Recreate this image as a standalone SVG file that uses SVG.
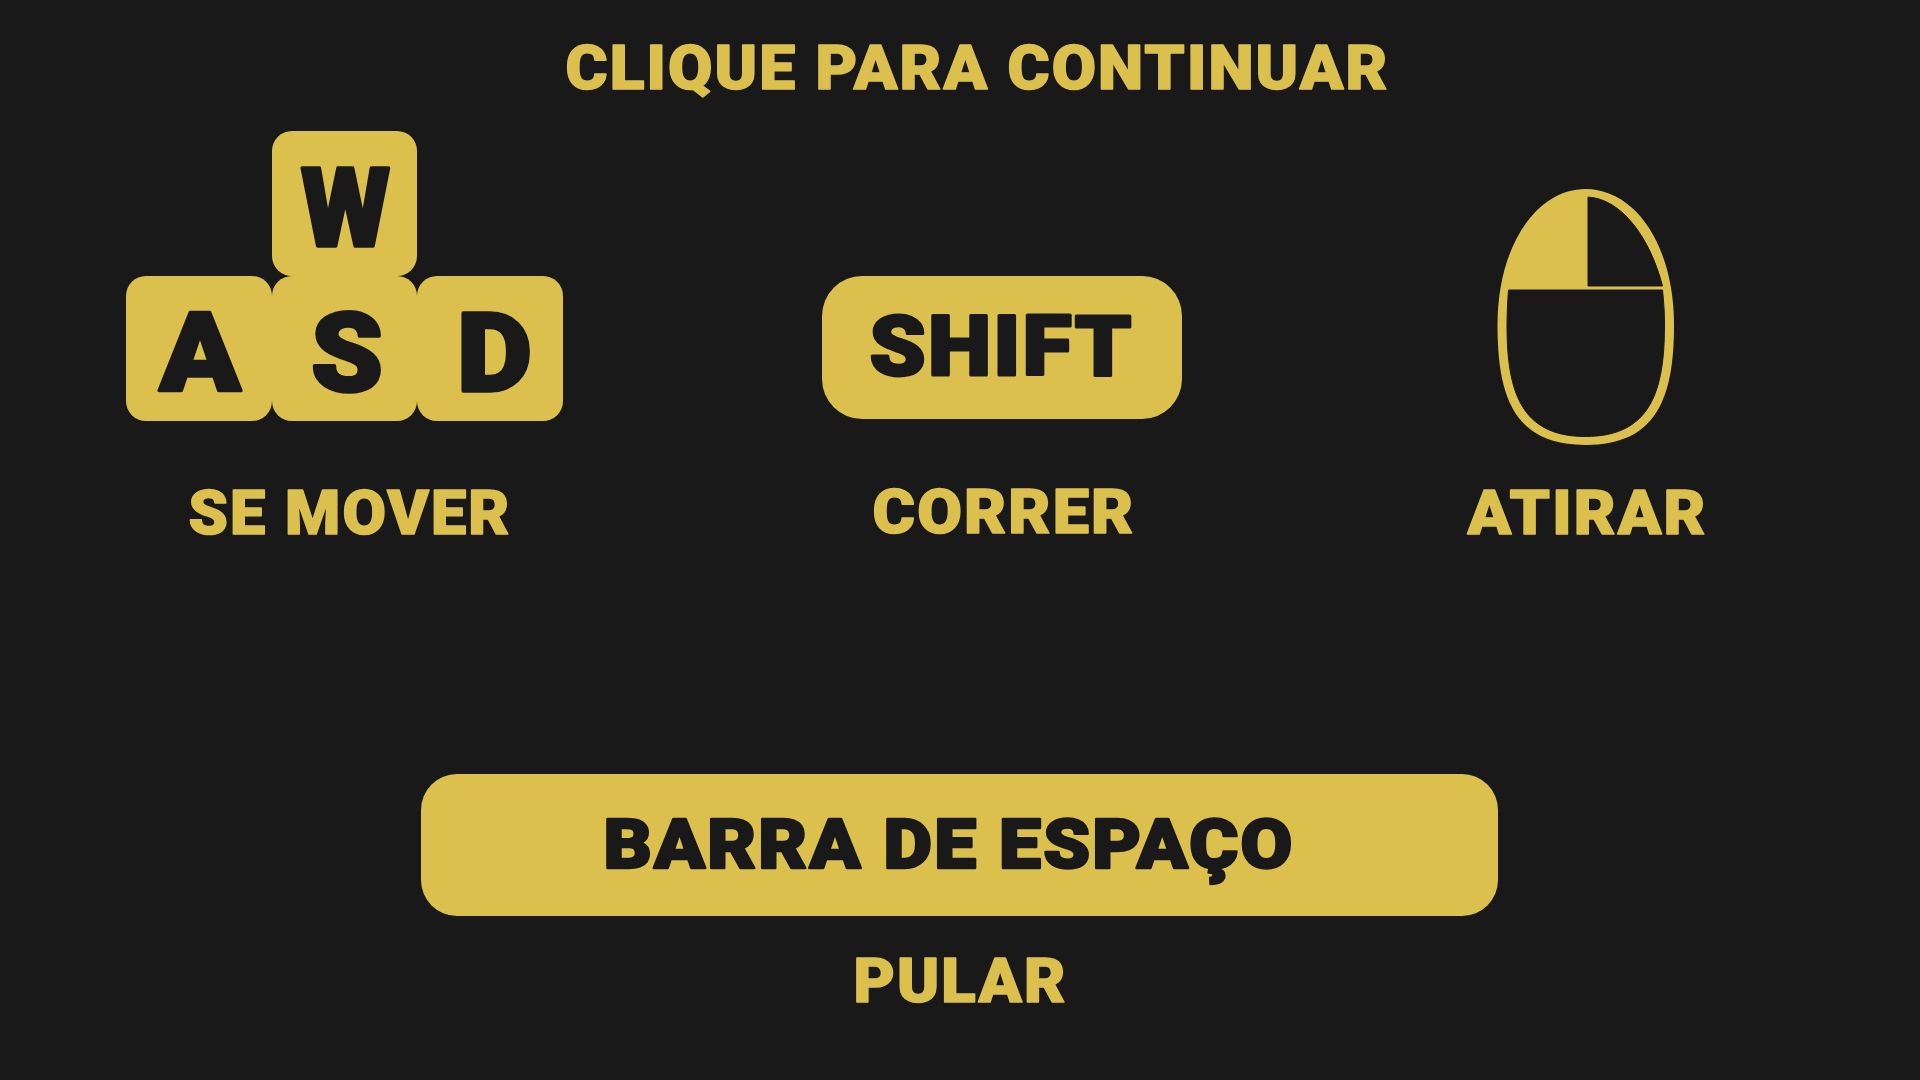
<svg xmlns="http://www.w3.org/2000/svg" width="1920" height="1080" viewBox="0 0 1920 1080">
<style>
.k{fill:#dcc04e}
text{font-family:"Roboto","Inter","Liberation Sans",sans-serif;font-weight:900;text-anchor:start;stroke-linejoin:round;paint-order:stroke;letter-spacing:2px}
.l{fill:#dcc04e;stroke:#dcc04e;stroke-width:1.500px;font-size:61.500px}
.d{fill:#191919;stroke:#191919}
.b{stroke-width:3.500px;font-size:110px;letter-spacing:0}
</style>
<rect width="1920" height="1080" fill="#191919"/>
<g id="title"><text class="l" x="565.500" y="89" textLength="824" lengthAdjust="spacingAndGlyphs">CLIQUE PARA CONTINUAR</text></g>
<g id="key-w"><rect class="k" x="272" y="131" width="145" height="145" rx="20"/><text class="d b" x="301" y="245.500" textLength="89" lengthAdjust="spacingAndGlyphs">W</text></g>
<g id="key-a"><rect class="k" x="126" y="276" width="146" height="145" rx="20"/><text class="d b" x="159.500" y="390.500" textLength="81" lengthAdjust="spacingAndGlyphs">A</text></g>
<g id="key-s"><rect class="k" x="272" y="276" width="145" height="145" rx="20"/><text class="d b" x="311" y="390.500" textLength="72" lengthAdjust="spacingAndGlyphs">S</text></g>
<g id="key-d"><rect class="k" x="417" y="276" width="146" height="145" rx="20"/><text class="d b" x="457" y="390.500" textLength="75" lengthAdjust="spacingAndGlyphs">D</text></g>
<g id="label-move"><text class="l" x="188.500" y="533.500" textLength="323" lengthAdjust="spacingAndGlyphs">SE MOVER</text></g>
<g id="key-shift"><rect class="k" x="822" y="276" width="360" height="143" rx="40"/><text class="d" x="869.500" y="374.500" font-size="83" stroke-width="3" textLength="264" lengthAdjust="spacingAndGlyphs">SHIFT</text></g>
<g id="label-run"><text class="l" x="872.500" y="532.500" textLength="263" lengthAdjust="spacingAndGlyphs">CORRER</text></g>
<g id="mouse">
<path class="k" d="M1585.500 189C1635 189 1674 245 1674 325C1674 397 1657 445 1585.500 445C1514 445 1497.500 397 1497.500 325C1497.500 245 1537 189 1585.500 189Z"/>
<path class="d" d="M1508.500 290L1662.500 290C1664 303 1664.500 315 1664.500 325C1664.500 392 1650 436.500 1585.500 436.500C1521 436.500 1507 392 1507 325C1507 315 1507.500 303 1508.500 290Z"/>
<path class="d" d="M1588 197C1622 199 1650 238 1662.500 286L1588 286Z"/>
</g>
<g id="label-shoot"><text class="l" x="1467.500" y="533.500" textLength="240" lengthAdjust="spacingAndGlyphs">ATIRAR</text></g>
<g id="key-space"><rect class="k" x="421" y="774" width="1077" height="142" rx="36"/><text class="d" x="603.500" y="868" font-size="69" stroke-width="2.500" textLength="691" lengthAdjust="spacingAndGlyphs">BARRA DE ESPAÇO</text></g>
<g id="label-jump"><text class="l" x="853.500" y="1001.500" textLength="214" lengthAdjust="spacingAndGlyphs">PULAR</text></g>
<g id="connectors"/>
</svg>
